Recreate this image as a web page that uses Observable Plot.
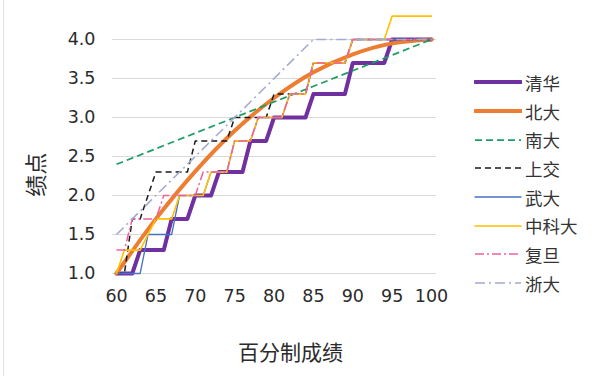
<!DOCTYPE html>
<html><head><meta charset="utf-8">
<script src="https://cdn.jsdelivr.net/npm/d3@7"></script>
<script src="https://cdn.jsdelivr.net/npm/@observablehq/plot@0.6"></script>
<style>
body{margin:0;background:#fff;}
#wrap{position:relative;width:600px;height:376px;overflow:hidden;background:#fff;}
#edge{position:absolute;left:3px;top:0;width:1px;height:376px;background:#e3e3e3;}
#legend{position:absolute;left:474px;top:68px;font-family:"Noto Sans CJK SC",sans-serif;font-size:17.5px;color:#333;}
.row{height:28.7px;display:flex;align-items:center;}
.row svg{margin-right:3px;display:block;}
</style></head><body><div id="wrap"><div id="edge"></div><div id="legend"></div></div>
<script>
// x categories (百分制成绩)
const scores = [60,61,62,63,64,65,66,67,68,69,70,71,72,73,74,75,76,77,78,79,80,81,82,83,84,85,86,87,88,89,90,91,92,93,94,95,96,97,98,99,100];
const scores5 = [60,65,70,75,80,85,90,95,100];
const xTicks = [60,65,70,75,80,85,90,95,100];
const yTicks = [1.0,1.5,2.0,2.5,3.0,3.5,4.0];

// series values (绩点)
const qinghua   = [1.0,1.0,1.0,1.3,1.3,1.3,1.3,1.7,1.7,1.7,2.0,2.0,2.0,2.3,2.3,2.3,2.3,2.7,2.7,2.7,3.0,3.0,3.0,3.0,3.0,3.3,3.3,3.3,3.3,3.3,3.7,3.7,3.7,3.7,3.7,4.0,4.0,4.0,4.0,4.0,4.0];
const beida     = [1.0,1.70,2.31,2.83,3.25,3.58,3.81,3.95,4.0];   // at scores5
const nanda     = [2.4,2.6,2.8,3.0,3.2,3.4,3.6,3.8,4.0];          // at scores5
const shangjiao = [1.0,1.0,1.7,1.7,2.0,2.3,2.3,2.3,2.3,2.3,2.7,2.7,2.7,2.7,2.7,3.0,3.0,3.0,3.0,3.0,3.3,3.3,3.3,3.3,3.3,3.7,3.7,3.7,3.7,3.7,4.0,4.0,4.0,4.0,4.0,4.0,4.0,4.0,4.0,4.0,4.0];
const wuda      = [1.0,1.0,1.0,1.0,1.5,1.5,1.5,1.5,2.0,2.0,2.0,2.0,2.3,2.3,2.3,2.7,2.7,2.7,3.0,3.0,3.0,3.0,3.3,3.3,3.3,3.7,3.7,3.7,3.7,3.7,4.0,4.0,4.0,4.0,4.0,4.0,4.0,4.0,4.0,4.0,4.0];
const keda      = [1.0,1.3,1.3,1.3,1.5,1.7,1.7,1.7,2.0,2.0,2.0,2.0,2.3,2.3,2.3,2.7,2.7,2.7,3.0,3.0,3.0,3.0,3.3,3.3,3.3,3.7,3.7,3.7,3.7,3.7,4.0,4.0,4.0,4.0,4.0,4.3,4.3,4.3,4.3,4.3,4.3];
const fudan     = [1.3,1.3,1.7,1.7,1.7,1.7,2.0,2.0,2.0,2.0,2.0,2.3,2.3,2.3,2.3,2.7,2.7,2.7,3.0,3.0,3.0,3.0,3.3,3.3,3.3,3.7,3.7,3.7,3.7,3.7,4.0,4.0,4.0,4.0,4.0,4.0,4.0,4.0,4.0,4.0,4.0];
const zheda     = [1.5,2.0,2.5,3.0,3.5,4.0,4.0,4.0,4.0];          // at scores5

const series = [
  {name:"清华", xs:scores, ys:qinghua, stroke:"#7030A0", w:4, dash:null, curve:"linear"},
  {name:"北大", xs:scores5, ys:beida, stroke:"#ED7D31", w:4, dash:null, curve:"catmull-rom"},
  {name:"南大", xs:scores5, ys:nanda, stroke:"#1E9E64", w:1.75, dash:"7,4", curve:"linear"},
  {name:"上交", xs:scores, ys:shangjiao, stroke:"#1a1a1a", w:1.5, dash:"6,4", curve:"linear"},
  {name:"武大", xs:scores, ys:wuda, stroke:"#4472C4", w:1.3, dash:null, curve:"linear"},
  {name:"中科大", xs:scores, ys:keda, stroke:"#FFC000", w:1.6, dash:null, curve:"linear"},
  {name:"复旦", xs:scores, ys:fudan, stroke:"#F0609E", w:1.5, dash:"9,3,2,3", curve:"linear"},
  {name:"浙大", xs:scores5, ys:zheda, stroke:"#A3ABD0", w:1.6, dash:"10,4,2,4", curve:"linear"}
];

const fontNum = "DejaVu Sans";
const fontCJK = "Noto Sans CJK SC";

const lineMarks = series.map(s => Plot.line(s.xs.map((x,i)=>({x, y:s.ys[i]})), {
  x:"x", y:"y", stroke:s.stroke, strokeWidth:s.w,
  strokeDasharray:s.dash || undefined, curve:s.curve,
  strokeLinejoin:"round", strokeLinecap: s.dash ? "butt" : "round"
}));

const chart = Plot.plot({
  width:600, height:376,
  marginLeft:112, marginRight:164, marginTop:15.6, marginBottom:103,
  style:{fontFamily:fontNum, fontSize:"17px", color:"#2b2b2b", background:"transparent"},
  x:{domain:[59.49,100.63]},
  y:{domain:[1,4.3]},
  marks:[
    Plot.ruleY(yTicks, {stroke:"#d9d9d9", strokeWidth:1}),
    Plot.axisY(yTicks, {tickSize:0, tickPadding:17, tickFormat:d=>d.toFixed(1), label:null, fontSize:17.5}),
    Plot.axisX(xTicks, {tickSize:0, tickPadding:16, label:null, fontSize:17.5}),
    ...lineMarks,
    Plot.text(["百分制成绩"], {text:d=>d, frameAnchor:"bottom", lineAnchor:"middle", dx:16, dy:80, fontSize:21, fontFamily:fontCJK, fill:"#2b2b2b"}),
    Plot.text(["绩点"], {text:d=>d, frameAnchor:"left", lineAnchor:"middle", rotate:-90, dx:-76, dy:52, fontSize:22, fontFamily:fontCJK, fill:"#2b2b2b"})
  ]
});
document.getElementById("wrap").appendChild(chart);
chart.style.position = "absolute"; chart.style.left = "0"; chart.style.top = "0";

const legend = document.getElementById("legend");
series.forEach(s => {
  const row = document.createElement("div"); row.className = "row";
  const svg = d3.create("svg").attr("width",48).attr("height",10);
  svg.append("line").attr("x1",1).attr("x2",47).attr("y1",5).attr("y2",5)
    .attr("stroke",s.stroke).attr("stroke-width",s.w)
    .attr("stroke-dasharray",s.dash).attr("stroke-linecap", s.dash ? "butt" : "round");
  row.appendChild(svg.node());
  const t = document.createElement("span"); t.textContent = s.name; row.appendChild(t);
  legend.appendChild(row);
});
legend.style.zIndex = 2;
</script></body></html>
